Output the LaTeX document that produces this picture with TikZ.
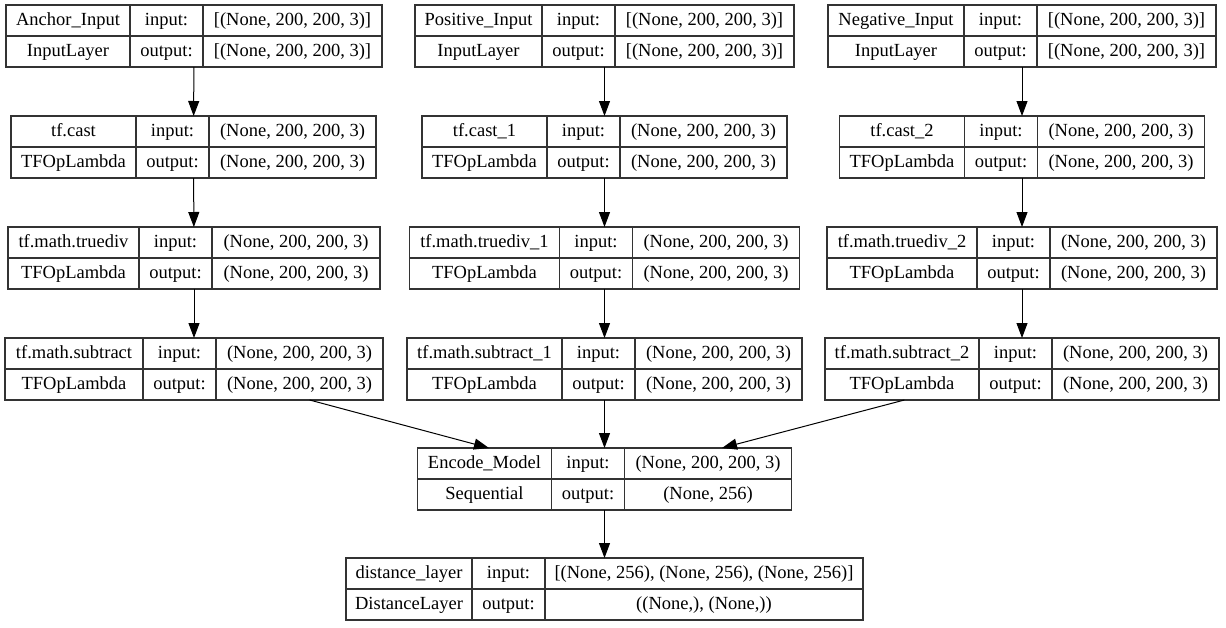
\documentclass[tikz,border=0pt]{standalone}
\usepackage{fontspec}
\setmainfont{Liberation Serif}
\usetikzlibrary{arrows.meta,positioning}

\tikzset{
  cell/.style={draw=black!80, line width=1.2pt, minimum height=31pt, inner sep=0pt, outer sep=0pt,
    text height=13pt, text depth=4pt, anchor=north west, font=\fontsize{18.5}{20}\selectfont},
  layer/.style={minimum height=62pt, inner sep=0pt, outer sep=0pt, anchor=north},
  edge/.style={-{Triangle[length=15pt,width=11pt]}, line width=1pt},
}

%% #1 name, #2 x, #3 top, #4 first column, #5 last column, #6 layer, #7 class, #8 input, #9 output
\newcommand{\kerasbox}[9]{%
  \pgfmathsetmacro\boxw{#4+73+#5}
  \node[layer, minimum width=\boxw pt] (#1) at (#2,#3) {};
  \node[cell, minimum width=#4pt] (#1-name) at (#1.north west) {#6};
  \node[cell, minimum width=#4pt] (#1-type) at (#1-name.south west) {#7};
  \node[cell, minimum width=73pt] (#1-in) at (#1-name.north east) {input:};
  \node[cell, minimum width=73pt] (#1-out) at (#1-in.south west) {output:};
  \node[cell, minimum width=#5pt] (#1-inshape) at (#1-in.north east) {#8};
  \node[cell, minimum width=#5pt] (#1-outshape) at (#1-inshape.south west) {#9};
}

\begin{document}
\begin{tikzpicture}[x=1pt,y=-1pt]
  \useasboundingbox[fill=white] (0,0) rectangle (1226,627);
  %%
  \kerasbox{Anchor}{194}{5}{124}{179}{Anchor\_Input}{InputLayer}{[(None, 200, 200, 3)]}{[(None, 200, 200, 3)]}
  \kerasbox{Cast}{193.5}{116}{125}{167}{tf.cast}{TFOpLambda}{(None, 200, 200, 3)}{(None, 200, 200, 3)}
  \kerasbox{Div}{194}{227}{131}{168}{tf.math.truediv}{TFOpLambda}{(None, 200, 200, 3)}{(None, 200, 200, 3)}
  \kerasbox{Sub}{194}{338}{138}{167}{tf.math.subtract}{TFOpLambda}{(None, 200, 200, 3)}{(None, 200, 200, 3)}
  \kerasbox{Positive}{604.5}{5}{127}{179}{Positive\_Input}{InputLayer}{[(None, 200, 200, 3)]}{[(None, 200, 200, 3)]}
  \kerasbox{Cast1}{604.5}{116}{125}{167}{tf.cast\_1}{TFOpLambda}{(None, 200, 200, 3)}{(None, 200, 200, 3)}
  \kerasbox{Div1}{604.5}{227}{150}{167}{tf.math.truediv\_1}{TFOpLambda}{(None, 200, 200, 3)}{(None, 200, 200, 3)}
  \kerasbox{Sub1}{604.5}{338}{155}{167}{tf.math.subtract\_1}{TFOpLambda}{(None, 200, 200, 3)}{(None, 200, 200, 3)}
  \kerasbox{Negative}{1022}{5}{136}{179}{Negative\_Input}{InputLayer}{[(None, 200, 200, 3)]}{[(None, 200, 200, 3)]}
  \kerasbox{Cast2}{1022}{116}{125}{167}{tf.cast\_2}{TFOpLambda}{(None, 200, 200, 3)}{(None, 200, 200, 3)}
  \kerasbox{Div2}{1022}{227}{150}{167}{tf.math.truediv\_2}{TFOpLambda}{(None, 200, 200, 3)}{(None, 200, 200, 3)}
  \kerasbox{Sub2}{1022}{338}{154}{167}{tf.math.subtract\_2}{TFOpLambda}{(None, 200, 200, 3)}{(None, 200, 200, 3)}
  \kerasbox{Encode}{604.5}{448}{134}{167}{Encode\_Model}{Sequential}{(None, 200, 200, 3)}{(None, 256)}
  \kerasbox{Distance}{604.5}{558}{126}{318}{distance\_layer}{DistanceLayer}{[(None, 256), (None, 256), (None, 256)]}{((None,), (None,))}
  %
  \draw [edge] (Anchor) -- (Cast);
  \draw [edge] (Cast) -- (Div);
  \draw [edge] (Div) -- (Sub);
  \draw [edge] (Positive) -- (Cast1);
  \draw [edge] (Cast1) -- (Div1);
  \draw [edge] (Div1) -- (Sub1);
  \draw [edge] (Negative) -- (Cast2);
  \draw [edge] (Cast2) -- (Div2);
  \draw [edge] (Div2) -- (Sub2);
  \draw [edge] (Sub) -- (Encode);
  \draw [edge] (Sub1) -- (Encode);
  \draw [edge] (Sub2) -- (Encode);
  \draw [edge] (Encode) -- (Distance);
  %
\end{tikzpicture}
\end{document}
